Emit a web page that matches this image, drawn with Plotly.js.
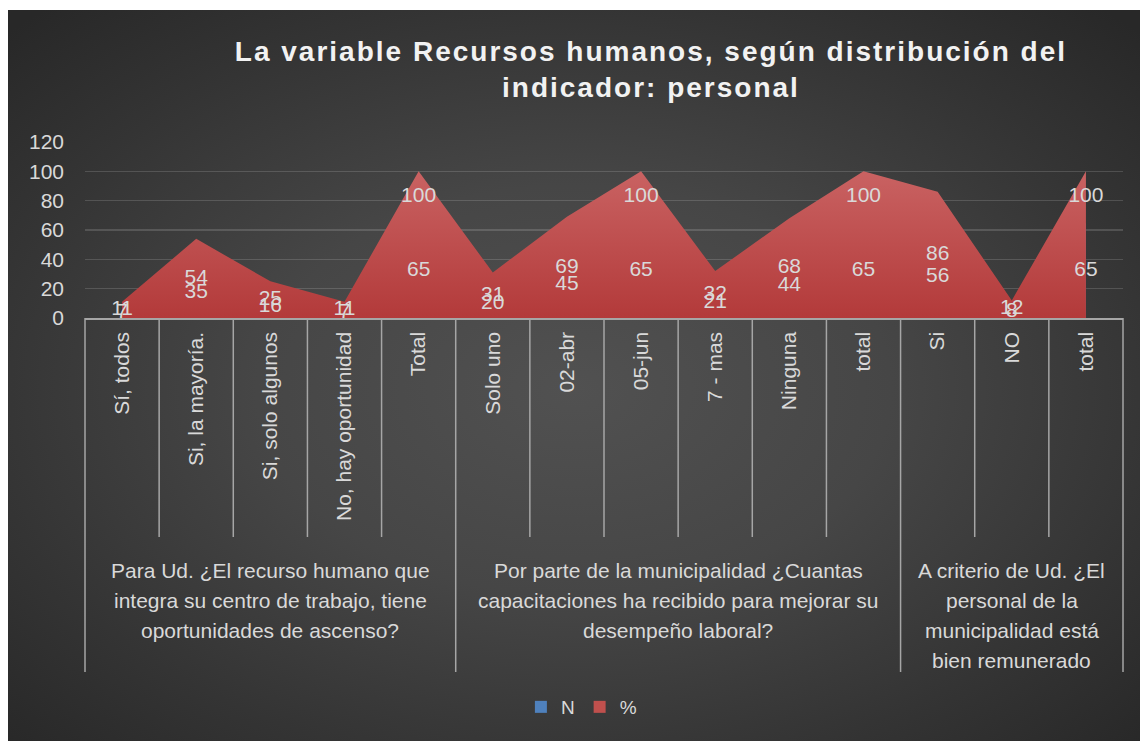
<!DOCTYPE html>
<html>
<head>
<meta charset="utf-8">
<script src="https://cdn.plot.ly/plotly-3.0.1.min.js"></script>
<style>
html,body{margin:0;padding:0;background:#ffffff;}
#bg{position:absolute;left:8px;top:10px;width:1132px;height:731px;
 background:radial-gradient(ellipse 70% 70% at 50% 52%, #515151 0%, #464646 40%, #343434 75%, #282828 100%);}
#chart{position:absolute;left:0;top:0;width:1140px;height:741px;}
.gtitle{letter-spacing:2px;}
</style>
</head>
<body>
<div id="bg"></div>
<div id="chart"></div>
<script>
// ---- data ----
const categories = ["Sí, todos", "Si, la mayoría.", "Si, solo algunos", "No, hay oportunidad", "Total",
  "Solo uno", "02-abr", "05-jun", "7 - mas", "Ninguna", "total",
  "Si", "NO", "total"];
const groupLabels = [
  ["Para Ud. ¿El recurso humano que", "integra su centro de trabajo, tiene", "oportunidades de ascenso?"],
  ["Por parte de la municipalidad ¿Cuantas", "capacitaciones ha recibido para mejorar su", "desempeño laboral?"],
  ["A criterio de Ud. ¿El", "personal de la", "municipalidad está", "bien remunerado"]
];
const groupSizes = [5, 6, 3];
const nValues = [7, 35, 16, 7, 65, 20, 45, 65, 21, 44, 65, 56, 8, 65];
const pctValues = [11, 54, 25, 11, 100, 31, 69, 100, 32, 68, 100, 86, 12, 100];
const seriesNames = ["N", "%"];

// ---- layout helpers ----
const FONT = "Liberation Sans, Arial, sans-serif";
const TXT = "#d9d9d9";
const idx = categories.map((c, i) => i);
const plotTop = 142, plotBottom = 318, plotH = plotBottom - plotTop;
const pyToPaper = py => (plotBottom - py) / plotH;

const nLabelY = nValues.map(v => v / 2);
const pLabelY = pctValues.map((p, i) => p >= 100 ? (p + nValues[i]) / 2 : p / 2);

const traces = [
  {x: idx, y: nValues, type: "scatter", mode: "lines", fill: "tozeroy",
   fillcolor: "#4f81bd", line: {width: 0, color: "#4f81bd"}, showlegend: false, hoverinfo: "skip"},
  {x: idx, y: pctValues, type: "scatter", mode: "lines", fill: "tozeroy",
   fillcolor: "#c0504d",
   fillgradient: {type: "vertical", start: 0, stop: 100, colorscale: [[0, "#b33a3a"], [1, "#c96262"]]},
   line: {width: 0, color: "#c0504d"}, showlegend: false, hoverinfo: "skip"},
  {x: idx, y: nLabelY, type: "scatter", mode: "text", text: nValues.map(String),
   textfont: {family: FONT, size: 21, color: TXT}, showlegend: false, hoverinfo: "skip"},
  {x: idx, y: pLabelY, type: "scatter", mode: "text", text: pctValues.map(String),
   textfont: {family: FONT, size: 21, color: TXT}, showlegend: false, hoverinfo: "skip"},
  {x: [null], y: [null], type: "bar", name: seriesNames[0],
   marker: {color: "#4f81bd", line: {width: 0}}},
  {x: [null], y: [null], type: "bar", name: seriesNames[1],
   marker: {color: "#c0504d", line: {width: 0}}}
];

// separators
const shapes = [];
const nCat = categories.length;
const lvl1Bottom = pyToPaper(537);
const lvl2Bottom = pyToPaper(672);
const groupBounds = [0];
groupSizes.forEach(s => groupBounds.push(groupBounds[groupBounds.length - 1] + s));
for (let i = 0; i <= nCat; i++) {
  const isGroup = groupBounds.includes(i);
  shapes.push({type: "line", xref: "paper", yref: "paper", x0: i / nCat, x1: i / nCat,
    y0: 0, y1: isGroup ? lvl2Bottom : lvl1Bottom, line: {color: "#a6a6a6", width: 1.5}});
}

const annotations = [];
groupLabels.forEach((lines, g) => {
  const center = groupBounds[g] + (groupSizes[g] - 1) / 2;
  lines.forEach((ln, k) => {
    annotations.push({x: center, xref: "x", y: pyToPaper(570 + 30 * k), yref: "paper",
      text: ln, showarrow: false, xanchor: "center", yanchor: "middle",
      font: {family: FONT, size: 21, color: TXT}});
  });
});

const layout = {
  width: 1140, height: 741,
  margin: {l: 85, r: 17, t: plotTop, b: 741 - plotBottom, pad: 0},
  paper_bgcolor: "rgba(0,0,0,0)", plot_bgcolor: "rgba(0,0,0,0)",
  title: {text: "La variable Recursos humanos, según distribución del<br>indicador: personal",
    font: {family: FONT, size: 28, color: "#f2f2f2", weight: "bold"},
    x: 0.571, xref: "container", xanchor: "center",
    y: 1 - 61 / 741, yref: "container", yanchor: "top"},
  xaxis: {range: [-0.5, nCat - 0.5], tickvals: idx, ticktext: categories, tickangle: -90,
    showgrid: false, zeroline: false, showline: true, linecolor: "#a6a6a6", linewidth: 1.5,
    ticks: "", ticklabelstandoff: 4, tickfont: {family: FONT, size: 21, color: TXT}, fixedrange: true},
  yaxis: {range: [0, 120], dtick: 20, tick0: 0, showgrid: true, gridcolor: "rgba(255,255,255,0.15)",
    gridwidth: 1.5, zeroline: false, showline: false, ticks: "", ticklabelstandoff: 20,
    tickfont: {family: FONT, size: 21, color: TXT}, fixedrange: true},
  legend: {orientation: "h", x: 0.51, xref: "container", xanchor: "center",
    y: 1 - 707 / 741, yref: "container", yanchor: "middle",
    font: {family: FONT, size: 19, color: TXT}, itemwidth: 30, tracegroupgap: 0, bgcolor: "rgba(0,0,0,0)"},
  shapes: shapes,
  annotations: annotations,
  showlegend: true
};

Plotly.newPlot("chart", traces, layout, {displayModeBar: false, staticPlot: true});
</script>
</body>
</html>
